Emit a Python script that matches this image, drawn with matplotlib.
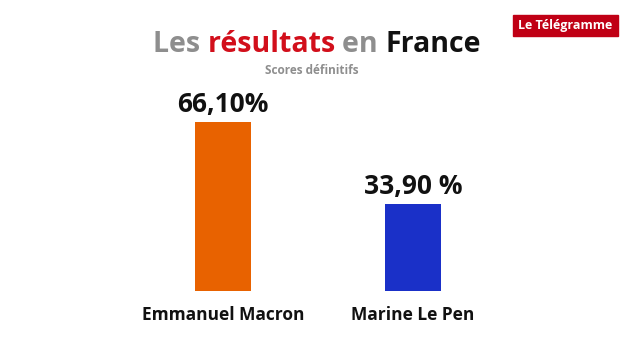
import matplotlib
matplotlib.use('Agg')
import matplotlib.pyplot as plt
from matplotlib.patches import Rectangle

# --- Données ---
candidats = ['Emmanuel Macron', 'Marine Le Pen']
scores = [66.10, 33.90]
etiquettes = ['66,10%', '33,90 %']
couleurs = ['#e86200', '#1a30c8']

titre_mots = ['Les ', 'résultats ', 'en ', 'France']
titre_couleurs = ['#8e8e8e', '#d20f1b', '#8e8e8e', '#111111']

plt.rcParams['font.family'] = ['Open Sans', 'DejaVu Sans']

fig = plt.figure(figsize=(6.4, 3.6), dpi=100)
fig.patch.set_facecolor('white')

# axes positionnés en pixels : x de 128 à 508, y de 112 à 291 (depuis le haut)
ax = fig.add_axes([128 / 640, 1 - 291 / 360, 380 / 640, 179 / 360])
ax.bar(range(len(scores)), scores, width=0.295, color=couleurs)
ax.set_xlim(-0.5, 1.5)
ax.set_ylim(0, 70)
ax.axis('off')

for i, (s, lab) in enumerate(zip(scores, etiquettes)):
    ax.annotate(lab, (i, s), xytext=(0, 3), textcoords='offset points',
                ha='center', va='bottom', fontsize=19, fontweight='bold', color='#111111')
    ax.annotate(candidats[i], (i, 0), xytext=(0, -11), textcoords='offset points',
                ha='center', va='top', fontsize=12.5, fontweight='bold', color='#111111')

# --- Titre multicolore ---
renderer = fig.canvas.get_renderer()
textes = []
for mot, c in zip(titre_mots, titre_couleurs):
    t = fig.text(0, 1 - 52 / 360, mot, fontsize=20.5, fontweight='bold', color=c,
                 va='baseline', ha='left')
    textes.append(t)
largeurs = [t.get_window_extent(renderer).width / 640 for t in textes]
x = 317 / 640 - sum(largeurs) / 2
for t, w in zip(textes, largeurs):
    t.set_x(x)
    x += w

fig.text(312 / 640, 1 - 70 / 360, 'Scores définitifs', fontsize=8.5, fontweight='bold',
         color='#8e8e8e', ha='center', va='center')

# --- Logo ---
fig.patches.append(Rectangle((513 / 640, 1 - 36 / 360), 105 / 640, 21 / 360,
                             transform=fig.transFigure, color='#c00015'))
fig.text(565.5 / 640, 1 - 25.5 / 360, 'Le Télégramme', fontsize=9, fontweight='bold',
         color='white', ha='center', va='center')

fig.savefig('out.png', dpi=100)
